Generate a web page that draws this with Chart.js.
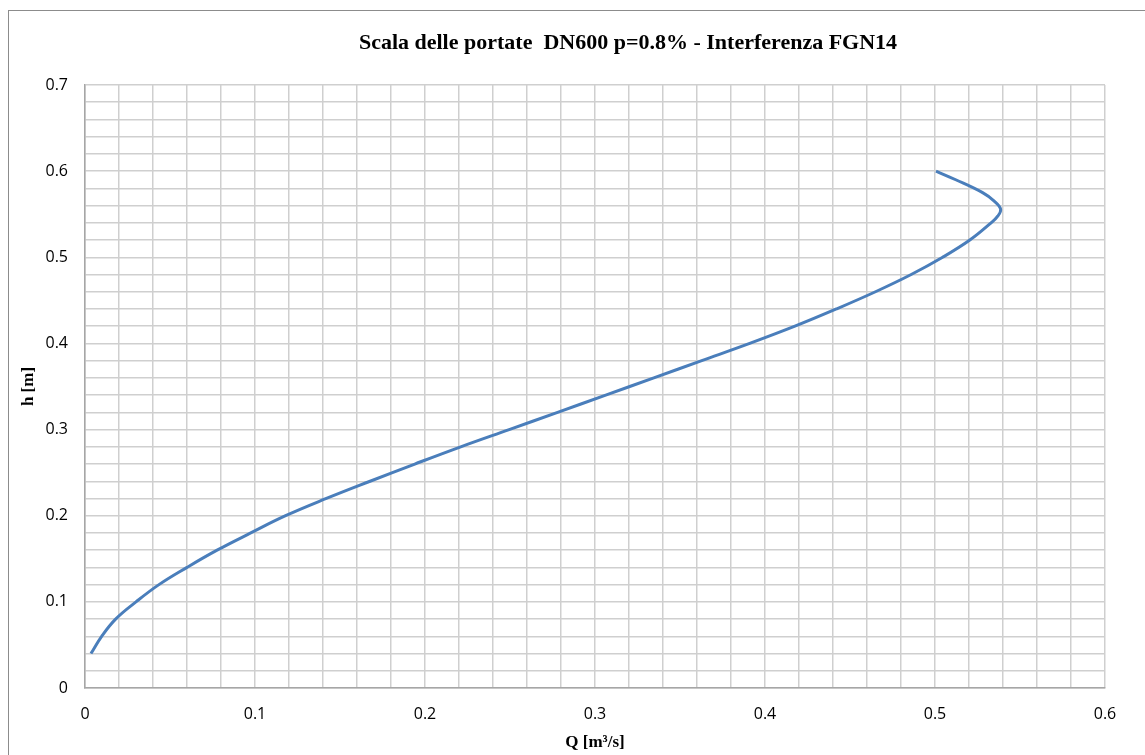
<!DOCTYPE html>
<html>
<head>
<meta charset="utf-8">
<script src="https://cdn.jsdelivr.net/npm/chart.js@4.4.1/dist/chart.umd.min.js"></script>
<style>
  html, body { margin: 0; padding: 0; background: #fff; overflow: hidden; }
  #frame {
    position: absolute; left: 8px; top: 10px;
    width: 1300px; height: 800px;
    border-left: 1.5px solid #8c8c8c; border-top: 1.5px solid #8c8c8c;
  }
  #wrap { position: absolute; left: 8px; top: 10px; width: 1240px; height: 745px; }
</style>
</head>
<body>
<div id="frame"></div>
<div id="wrap"><canvas id="chart"></canvas></div>
<script>
// ---------- DATA ----------
const title = "Scala delle portate  DN600 p=0.8% - Interferenza FGN14";
const xTitle = "Q [m³/s]";
const yTitle = "h [m]";

// water depth h [m]
const hValues = [0.04, 0.06, 0.08, 0.10, 0.12, 0.14, 0.16, 0.18, 0.20, 0.22,
  0.24, 0.26, 0.28, 0.30, 0.32, 0.34, 0.36, 0.38, 0.40, 0.42,
  0.44, 0.46, 0.48, 0.50, 0.52, 0.54, 0.548, 0.556, 0.565, 0.575, 0.59, 0.60];
// discharge Q [m3/s]
const qValues = [0.0035, 0.0098, 0.018, 0.030, 0.0435, 0.060, 0.0777, 0.0975, 0.118, 0.142,
  0.1677, 0.194, 0.221, 0.2495, 0.278, 0.3063, 0.3346, 0.3628, 0.391, 0.4176,
  0.442, 0.465, 0.486, 0.5045, 0.5205, 0.533, 0.537, 0.5386, 0.535, 0.528, 0.5122, 0.5006];

const xTickLabels = ["0", "0.1", "0.2", "0.3", "0.4", "0.5", "0.6"];
const yTickLabels = ["0", "0.1", "0.2", "0.3", "0.4", "0.5", "0.6", "0.7"];

const points = hValues.map((h, i) => ({ x: qValues[i], y: h }));

// only every 5th grid step (0.1) gets a label
function majorLabel(labels) {
  return (value) => {
    const k = Math.round(value * 10);
    if (Math.abs(value * 10 - k) < 1e-6) return labels[k];
    return "";
  };
}

const tickFont = { family: "'Open Sans', sans-serif", size: 16 };
const titleFont = { family: "'Liberation Serif', 'Times New Roman', serif", size: 17, weight: "bold" };

new Chart(document.getElementById("chart"), {
  type: "scatter",
  data: {
    datasets: [{
      data: points,
      showLine: true,
      borderColor: "#4a7ebb",
      borderWidth: 3,
      pointRadius: 0,
      tension: 0.4,
      fill: false,
    }],
  },
  options: {
    responsive: true,
    maintainAspectRatio: false,
    animation: false,
    plugins: {
      legend: { display: false },
      tooltip: { enabled: false },
      title: {
        display: true,
        text: title,
        color: "#000",
        font: { family: "'Liberation Serif', 'Times New Roman', serif", size: 22, weight: "bold" },
        padding: { top: 20, bottom: 28.6 },
      },
    },
    scales: {
      x: {
        type: "linear",
        min: 0, max: 0.6,
        ticks: {
          stepSize: 0.02,
          autoSkip: false,
          maxRotation: 0,
          padding: 17,
          color: "#000",
          font: tickFont,
          callback: majorLabel(xTickLabels),
        },
        grid: { color: "#cfcfcf", lineWidth: 1.5, drawTicks: false },
        border: { color: "#a6a6a6", width: 1.5 },
        title: { display: true, text: xTitle, color: "#000", font: titleFont, padding: { top: 0, bottom: 2 } },
        afterFit: (scale) => { scale.height = 67; },
      },
      y: {
        type: "linear",
        min: 0, max: 0.7,
        ticks: {
          stepSize: 0.02,
          autoSkip: false,
          padding: 17,
          color: "#000",
          font: tickFont,
          callback: majorLabel(yTickLabels),
        },
        grid: { color: "#cfcfcf", lineWidth: 1.5, drawTicks: false },
        border: { color: "#a6a6a6", width: 1.5 },
        title: { display: true, text: yTitle, color: "#000", font: titleFont, padding: { top: 10, bottom: 0 } },
        afterFit: (scale) => { scale.width = 77; },
      },
      // empty spacer on the right so the title centres like the original
      spacer: {
        type: "linear",
        position: "right",
        display: true,
        ticks: { display: false },
        grid: { display: false, drawTicks: false },
        border: { display: false },
        afterFit: (scale) => { scale.width = 143; },
      },
    },
  },
});
</script>
</body>
</html>
